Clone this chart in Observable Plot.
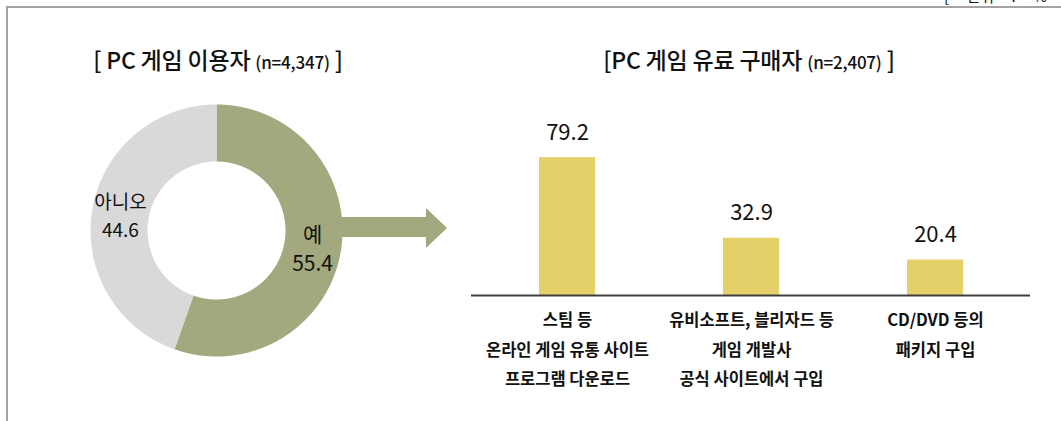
<!DOCTYPE html>
<html>
<head>
<meta charset="utf-8">
<script src="https://cdn.jsdelivr.net/npm/d3@7"></script>
<script src="https://cdn.jsdelivr.net/npm/@observablehq/plot@0.6"></script>
<style>
  html, body { margin: 0; padding: 0; background: #fff; }
  #page {
    position: relative; width: 1061px; height: 421px; overflow: hidden;
    font-family: "Noto Sans CJK KR", "Noto Sans", sans-serif; color: #111;
  }
  .frame-top { position: absolute; left: 6px; top: 6px; width: 1060px; border-top: 2px solid #a3a3a3; }
  .frame-left { position: absolute; left: 6px; top: 6px; height: 420px; border-left: 2px solid #a3a3a3; }
  .unit { position: absolute; left: 944px; top: -13px; font-size: 15px; line-height: 18px; word-spacing: 14px; white-space: nowrap; }
  .title {
    position: absolute; top: 44px; height: 30px; line-height: 30px; width: 420px;
    text-align: center; font-size: 23px; font-weight: 500; letter-spacing: -0.2px; white-space: nowrap;
  }
  .title small { font-size: 17px; letter-spacing: -0.2px; }
  .arrow {
    position: absolute; left: 330px; top: 208px; width: 117px; height: 40px; background: #a3a87e;
    clip-path: polygon(0 9px, 96px 9px, 96px 0, 117px 20px, 96px 40px, 96px 29px, 0 29px);
  }
  #donut { position: absolute; left: 86px; top: 100px; }
  #bars { position: absolute; left: 471px; top: 100px; }
  #bars g[aria-label="channel label"] { letter-spacing: -2.6px; }
</style>
</head>
<body>
<div id="page">
  <div class="frame-top"></div>
  <div class="frame-left"></div>
  <div class="unit">[ 단위 : % ]</div>
  <div class="title" style="left:8px">[ PC 게임 이용자 <small>(n=4,347)</small> ]</div>
  <div class="title" style="left:539px">[PC 게임 유료 구매자 <small>(n=2,407)</small> ]</div>
  <div class="arrow"></div>
  <div id="donut"></div>
  <div id="bars"></div>
</div>
<script>
// PC game users: share who bought paid games
const respondents = ["예", "아니오"];
const respondentShares = [55.4, 44.6];
const sliceColors = ["#a3a87e", "#d9d9d9"];

// Paid buyers: purchase channels (multiple answers)
const channels = [
  "스팀 등\n온라인 게임 유통 사이트\n프로그램 다운로드",
  "유비소프트, 블리자드 등\n게임 개발사\n공식 사이트에서 구입",
  "CD/DVD 등의\n패키지 구입"
];
const channelShares = [79.2, 32.9, 20.4];

const fontFamily = '"Noto Sans CJK KR", "Noto Sans", sans-serif';

// ---- Donut ----
const R_OUT = 126, R_IN = 69, R_MID = (R_OUT + R_IN) / 2;
const arcs = d3.pie().sort(null).value(d => d)(respondentShares);

// outline of each ring segment: outer arc forward, inner arc back
const ring = [];
arcs.forEach((a, i) => {
  const n = Math.max(2, Math.ceil((a.endAngle - a.startAngle) / (Math.PI / 360)));
  const at = k => a.startAngle + (a.endAngle - a.startAngle) * k / n;
  for (let k = 0; k <= n; k++) ring.push({slice: respondents[i], color: sliceColors[i], x: R_OUT * Math.sin(at(k)), y: R_OUT * Math.cos(at(k))});
  for (let k = n; k >= 0; k--) ring.push({slice: respondents[i], color: sliceColors[i], x: R_IN * Math.sin(at(k)), y: R_IN * Math.cos(at(k))});
});

const sliceLabels = arcs.map((a, i) => {
  const m = (a.startAngle + a.endAngle) / 2;
  return {text: `${respondents[i]}\n${respondentShares[i].toFixed(1)}`, x: R_MID * Math.sin(m), y: R_MID * Math.cos(m), main: i === 0};
});

const donut = Plot.plot({
  width: 260, height: 260, margin: 0,
  style: {fontFamily, background: "transparent", color: "#111"},
  x: {domain: [-130, 130], axis: null},
  y: {domain: [-130, 130], axis: null},
  color: {type: "identity"},
  marks: [
    Plot.line(ring, {x: "x", y: "y", z: "slice", fill: "color", stroke: "none"}),
    Plot.text(sliceLabels.filter(d => d.main), {x: "x", y: "y", text: "text", fontSize: 21, lineHeight: 1.4, fill: "#111"}),
    Plot.text(sliceLabels.filter(d => !d.main), {x: "x", y: "y", text: "text", fontSize: 19, lineHeight: 1.45, fill: "#111"})
  ]
});
document.getElementById("donut").appendChild(donut);

// ---- Bars ----
const purchases = channels.map((c, i) => ({channel: c, share: channelShares[i]}));

const bars = Plot.plot({
  width: 559, height: 300,
  marginTop: 0, marginBottom: 105, marginLeft: 0, marginRight: 0,
  style: {fontFamily, background: "transparent", color: "#111"},
  x: {domain: channels, paddingInner: 0.697, paddingOuter: 0.36, axis: null},
  y: {domain: [0, 112], axis: null},
  marks: [
    Plot.barY(purchases, {x: "channel", y: "share", fill: "#e5d06a"}),
    Plot.ruleY([0], {stroke: "#404040", strokeWidth: 2}),
    Plot.text(purchases, {x: "channel", y: "share", text: d => d.share.toFixed(1), dy: -25, fontSize: 22, fill: "#111"}),
    Plot.text(purchases, {
      x: "channel", y: () => 0, text: "channel", ariaLabel: "channel label",
      lineAnchor: "top", dy: 10, fontSize: 16.5, fontWeight: 700, lineHeight: 1.78, fill: "#111"
    })
  ]
});
document.getElementById("bars").appendChild(bars);
</script>
</body>
</html>
